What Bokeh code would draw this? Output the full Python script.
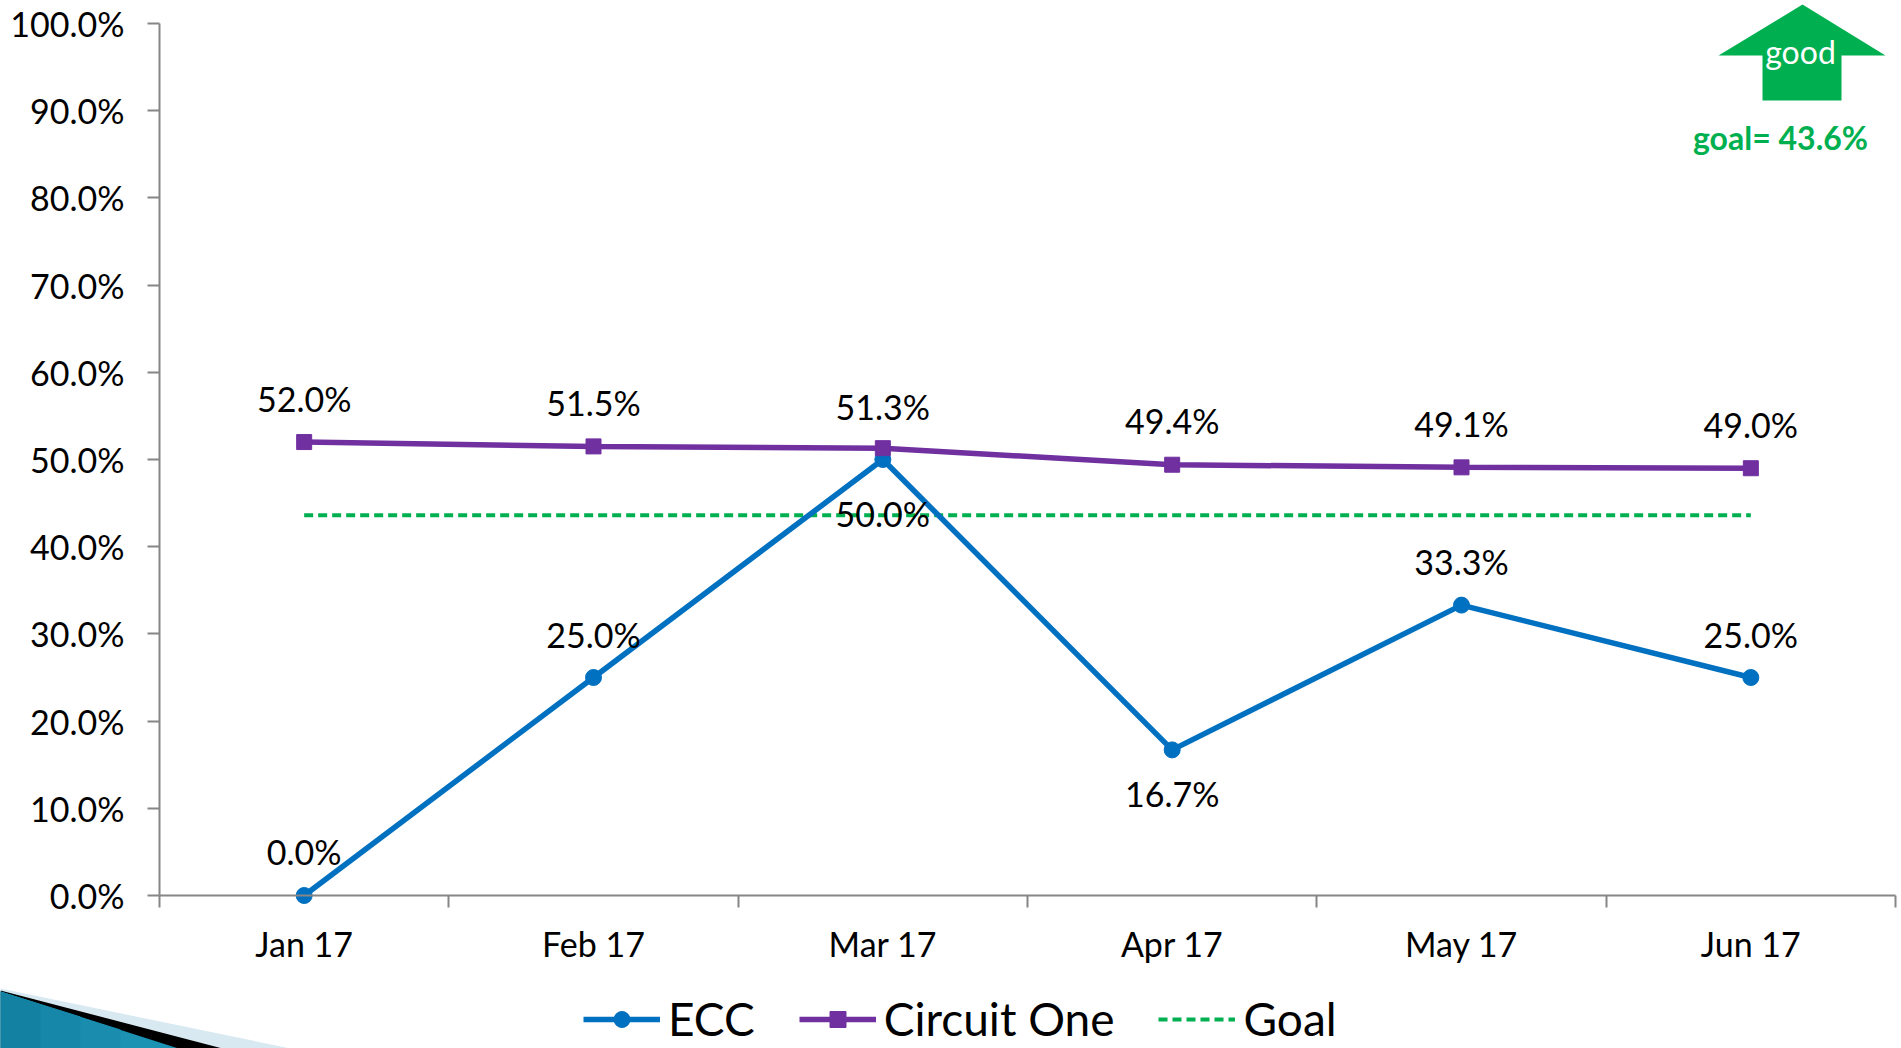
from bokeh.plotting import figure
from bokeh.embed import file_html
from bokeh.resources import INLINE
from bokeh.core.properties import value
from bokeh.models import (ColumnDataSource, FixedTicker, Legend, LegendItem, PolyAnnotation, Label, Range1d)

months = ["Jan 17", "Feb 17", "Mar 17", "Apr 17", "May 17", "Jun 17"]
ecc = [0.0, 25.0, 50.0, 16.7, 33.3, 25.0]
circuit = [52.0, 51.5, 51.3, 49.4, 49.1, 49.0]
goal = [43.6] * 6
ecc_offsets = [-44, -43, 54, 44, -44, -43]
circuit_offsets = [-44, -44, -42, -44, -44, -44]
y_ticks = list(range(0, 101, 10))

W, H = 1901, 1048
FONT = "Lato"
# plot area inside the page, in pixels
FL, FR, FT, FB = 159, 1895, 23, 895
UX = (FR - FL) / 6
UY = (FB - FT) / 100
x = [i + 0.5 for i in range(len(months))]

p = figure(width=W, height=H, output_backend="svg", toolbar_location=None,
           x_range=Range1d(-FL / UX, (W - FL) / UX), y_range=Range1d(-(H - FB) / UY, FB / UY),
           min_border=0)
p.styles = {"position": "absolute", "left": "0px", "top": "0px"}
p.outline_line_color = None
p.grid.visible = False
p.background_fill_color = "white"
p.border_fill_color = "white"

ax = p.xaxis[0]
ax.fixed_location = 0
ax.bounds = (0, 6)
ax.ticker = FixedTicker(ticks=x, minor_ticks=list(range(0, 7)))
ax.major_label_overrides = {v: m for v, m in zip(x, months)}
ax.major_tick_line_color = None
ax.minor_tick_line_color = "#868686"
ax.minor_tick_line_width = 2
ax.minor_tick_out = 12
ax.minor_tick_in = 0
ax.axis_line_color = "#868686"
ax.axis_line_width = 2
ax.major_label_text_font = FONT
ax.major_label_text_font_size = "34px"
ax.major_label_text_color = "black"
ax.major_label_standoff = 15

ay = p.yaxis[0]
ay.fixed_location = 0
ay.bounds = (0, 100)
ay.ticker = FixedTicker(ticks=y_ticks)
ay.major_label_overrides = {v: f"{v:.1f}%" for v in y_ticks}
ay.major_tick_line_color = "#868686"
ay.major_tick_line_width = 2
ay.major_tick_out = 12
ay.major_tick_in = 0
ay.minor_tick_line_color = None
ay.axis_line_color = "#868686"
ay.axis_line_width = 2
ay.major_label_text_font = FONT
ay.major_label_text_font_size = "34px"
ay.major_label_text_color = "black"
ay.major_label_standoff = 23

src = ColumnDataSource(dict(x=x, ecc=ecc, circuit=circuit, goal=goal,
                            ecc_t=[f"{v:.1f}%" for v in ecc],
                            cir_t=[f"{v:.1f}%" for v in circuit],
                            eo=ecc_offsets, co=circuit_offsets))

lg = p.line("x", "goal", source=src, line_color="#00B050", line_width=4, line_dash="9 5")
l1 = p.line("x", "ecc", source=src, line_color="#0070C0", line_width=5.5)
m1 = p.scatter("x", "ecc", source=src, marker="circle", size=16, color="#0070C0")
l2 = p.line("x", "circuit", source=src, line_color="#7030A0", line_width=5.5)
m2 = p.scatter("x", "circuit", source=src, marker="square", size=15, color="#7030A0")

p.text("x", "ecc", text="ecc_t", source=src, y_offset="eo",
       text_font=value(FONT), text_font_size="34px", text_color="black",
       text_align="center", text_baseline="middle")
p.text("x", "circuit", text="cir_t", source=src, y_offset="co",
       text_font=value(FONT), text_font_size="34px", text_color="black",
       text_align="center", text_baseline="middle")

legend = Legend(items=[LegendItem(label="ECC", renderers=[l1, m1]),
                       LegendItem(label="Circuit One", renderers=[l2, m2]),
                       LegendItem(label="Goal", renderers=[lg])],
                orientation="horizontal", location=(583, 2),
                background_fill_alpha=0, border_line_color=None,
                label_text_font=FONT, label_text_font_size="46px", label_text_color="black",
                glyph_width=77, glyph_height=40, label_standoff=8, spacing=44, padding=0, margin=0)
p.add_layout(legend, "center")

# decorations: page pixels, converted to screen units measured from the bottom left
def poly(xs, ys, color):
    p.add_layout(PolyAnnotation(xs=xs, ys=[H - v for v in ys], xs_units="screen", ys_units="screen",
                                fill_color=color, fill_alpha=1, line_alpha=0, level="overlay"))

poly([1802, 1885, 1841, 1841, 1762, 1762, 1718], [4, 55, 55, 100, 100, 55, 55], "#00B050")
poly([0, 290, 0], [988, 1048, 1048], "#d9e9f1")
poly([0, 222, 0], [990, 1048, 1048], "#000000")
poly([0, 178, 0], [991, 1048, 1048], "#1d93b4")
poly([0, 120, 120, 0], [991, 1029, 1048, 1048], "#1a8dae")
poly([0, 80, 80, 0], [991, 1016, 1048, 1048], "#1687a8")
poly([0, 40, 40, 0], [991, 1004, 1048, 1048], "#1281a2")

p.add_layout(Label(x=1800, y=H - 51, x_units="screen", y_units="screen", text="good",
                   text_color="white", text_font=FONT, text_font_size="32px",
                   text_align="center", text_baseline="middle", level="overlay"))
p.add_layout(Label(x=1780, y=H - 137, x_units="screen", y_units="screen", text="goal= 43.6%",
                   text_color="#00B050", text_font=FONT, text_font_style="bold", text_font_size="32px",
                   text_align="center", text_baseline="middle", level="overlay"))

open("out.html", "w").write(file_html(p, INLINE))
